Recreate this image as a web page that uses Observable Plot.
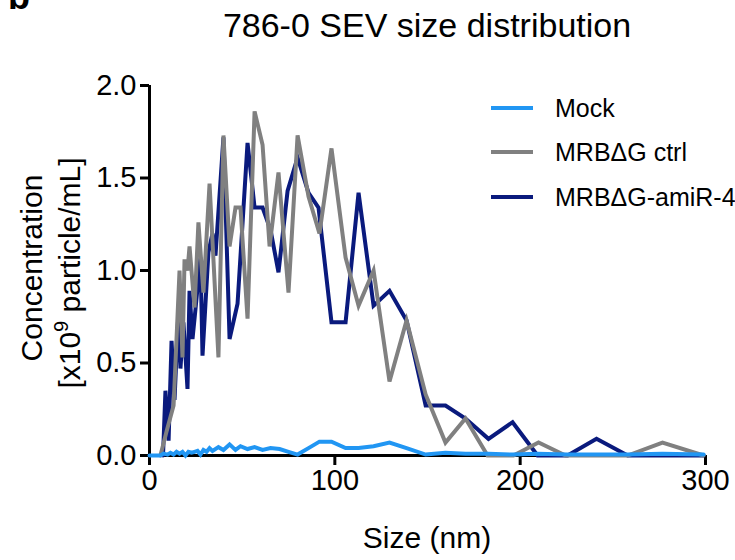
<!DOCTYPE html>
<html>
<head>
<meta charset="utf-8">
<script src="https://cdn.jsdelivr.net/npm/d3@7"></script>
<script src="https://cdn.jsdelivr.net/npm/@observablehq/plot@0.6"></script>
<style>
  html, body { margin: 0; padding: 0; background: #fff; }
</style>
</head>
<body>
<div id="chart"></div>
<script>
// ---- Data (size in nm, concentration in x10^9 particle/mL) ----
const mockSize = [0, 5.9, 7.6, 9.7, 11.3, 13.0, 14.6, 16.2, 17.8, 19.4, 21.0, 22.7, 24.3, 25.9, 27.5, 29.1, 30.8, 32.4, 34.0, 37.2, 39.9, 43.2, 46.4, 49.1, 52.9, 56.7, 61.0, 65.3, 70.2, 75.0, 79.9, 85.8, 91.7, 98.2, 105.8, 112.8, 120.9, 129.5, 138.7, 149.0, 159.7, 170.5, 182.9, 195.9, 209.4, 225.6, 241.2, 258.0, 276.8, 299.0];
const mockConc = [0, 0, 0.01, 0.005, 0.015, 0.005, 0.02, 0.01, 0.02, 0, 0.02, 0.015, 0.02, 0.025, 0.005, 0.03, 0.02, 0.04, 0.025, 0.045, 0.03, 0.06, 0.03, 0.05, 0.035, 0.045, 0.03, 0.04, 0.035, 0.02, 0.005, 0.04, 0.075, 0.075, 0.04, 0.04, 0.05, 0.07, 0.04, 0.005, 0.015, 0.01, 0.01, 0.005, 0.01, 0.005, 0.005, 0.005, 0.01, 0.005];

const ctrlSize = [5.9, 9.2, 13.0, 16.2, 17.8, 18.9, 20.5, 21.6, 24.3, 26.4, 29.1, 32.4, 37.2, 39.9, 43.2, 46.4, 49.1, 52.9, 56.7, 61.0, 64.8, 69.6, 75.0, 79.9, 85.8, 91.7, 98.2, 105.8, 112.8, 120.9, 129.5, 138.7, 149.0, 159.7, 170.5, 182.4, 196.4, 209.9, 224.5, 241.2, 258.0, 276.8, 299.0];
const ctrlConc = [0, 0.13, 0.27, 1.0, 0.53, 1.06, 1.0, 1.13, 0.8, 1.26, 0.88, 1.47, 0.53, 1.73, 1.13, 1.34, 1.34, 0.74, 1.86, 1.68, 1.13, 1.53, 0.88, 1.73, 1.4, 1.2, 1.66, 1.07, 0.81, 1.0, 0.4, 0.73, 0.33, 0.07, 0.2, 0, 0, 0.07, 0, 0, 0, 0.07, 0];

const amiSize = [7.3, 8.6, 10.3, 11.9, 13.5, 15.7, 16.7, 18.3, 20.5, 21.6, 23.2, 24.8, 27.5, 28.6, 31.8, 34.0, 35.6, 39.9, 43.2, 47.5, 52.9, 56.7, 61.0, 65.3, 69.6, 74.5, 79.9, 85.8, 91.2, 98.2, 105.8, 112.8, 120.9, 129.5, 138.7, 149.0, 159.7, 170.5, 182.9, 195.9, 209.4, 225.6, 241.2, 258.0, 299.0];
const amiConc = [0, 0.35, 0.08, 0.62, 0.3, 0.8, 0.47, 0.72, 0.36, 0.89, 0.63, 0.79, 1.07, 0.54, 1.1, 1.2, 1.08, 1.72, 0.63, 0.82, 1.69, 1.34, 1.34, 1.22, 0.99, 1.43, 1.61, 1.42, 1.34, 0.72, 0.72, 1.42, 0.81, 0.89, 0.73, 0.27, 0.27, 0.2, 0.09, 0.18, 0, 0, 0.09, 0, 0];

const seriesNames = ["Mock", "MRBΔG ctrl", "MRBΔG-amiR-4"];
const seriesColors = ["#2196F3", "#808080", "#0A1A7D"];
const xTicks = [0, 100, 200, 300];
const yTicks = [0, 0.5, 1.0, 1.5, 2.0];

const titleText = "786-0 SEV size distribution";
const xLabel = "Size (nm)";
const panelLetter = "b";

// ---- Build table (drawing order: amiR-4, ctrl, mock on top) ----
const rows = (sizes, concs, name) => sizes.map((s, i) => ({size: s, conc: concs[i], series: name}));
const data = [
  ...rows(amiSize, amiConc, seriesNames[2]),
  ...rows(ctrlSize, ctrlConc, seriesNames[1]),
  ...rows(mockSize, mockConc, seriesNames[0])
];

const FONT = "'Liberation Sans', Arial, Helvetica, sans-serif";

const chart = Plot.plot({
  width: 735,
  height: 560,
  marginLeft: 149,
  marginRight: 30,
  marginTop: 85,
  marginBottom: 105,
  style: {fontFamily: FONT, fontSize: "29px", background: "white", color: "black"},
  x: {domain: [0, 300]},
  y: {domain: [0, 2]},
  color: {domain: seriesNames, range: seriesColors},
  marks: [
    Plot.axisX({ticks: xTicks, tickSize: 10, tickPadding: 4, tickFormat: d => String(d), strokeWidth: 3, label: null, fontSize: 29}),
    Plot.axisY({ticks: yTicks, tickSize: 9, tickPadding: 4, tickFormat: d3.format(".1f"), strokeWidth: 3, label: null, fontSize: 29}),
    Plot.ruleX([0], {stroke: "black", strokeWidth: 3}),
    Plot.ruleY([0], {stroke: "black", strokeWidth: 3}),
    Plot.line(data, {x: "size", y: "conc", z: "series", stroke: "series", strokeWidth: 4, strokeLinejoin: "miter", strokeMiterlimit: 4})
  ]
});

document.getElementById("chart").appendChild(chart);

// ---- Annotations (title, axis labels, legend) ----
const svg = d3.select(chart);
const g = svg.append("g").attr("font-family", FONT).attr("fill", "black").attr("text-anchor", "start");

g.append("text").attr("x", 8).attr("y", 9).attr("font-size", 36).attr("font-weight", "bold").text(panelLetter);

g.append("text").attr("x", 427).attr("y", 37).attr("text-anchor", "middle").attr("font-size", 34).text(titleText);

g.append("text").attr("x", 427).attr("y", 548).attr("text-anchor", "middle").attr("font-size", 30).text(xLabel);

g.append("text").attr("transform", "translate(42,268) rotate(-90)").attr("text-anchor", "middle").attr("font-size", 30).text("Concentration");
const yl2 = g.append("text").attr("transform", "translate(80,273) rotate(-90)").attr("text-anchor", "middle").attr("font-size", 30);
yl2.append("tspan").text("[x10");
yl2.append("tspan").attr("dy", -12).attr("font-size", 20).text("9");
yl2.append("tspan").attr("dy", 12).text(" particle/mL]");

const legendY = [108, 152, 197];
seriesNames.forEach((name, i) => {
  g.append("line").attr("x1", 491).attr("x2", 533).attr("y1", legendY[i]).attr("y2", legendY[i])
    .attr("stroke", seriesColors[i]).attr("stroke-width", 4);
  g.append("text").attr("x", 555).attr("y", legendY[i] + 9).attr("text-anchor", "start").attr("font-size", 25).text(name);
});
</script>
</body>
</html>
